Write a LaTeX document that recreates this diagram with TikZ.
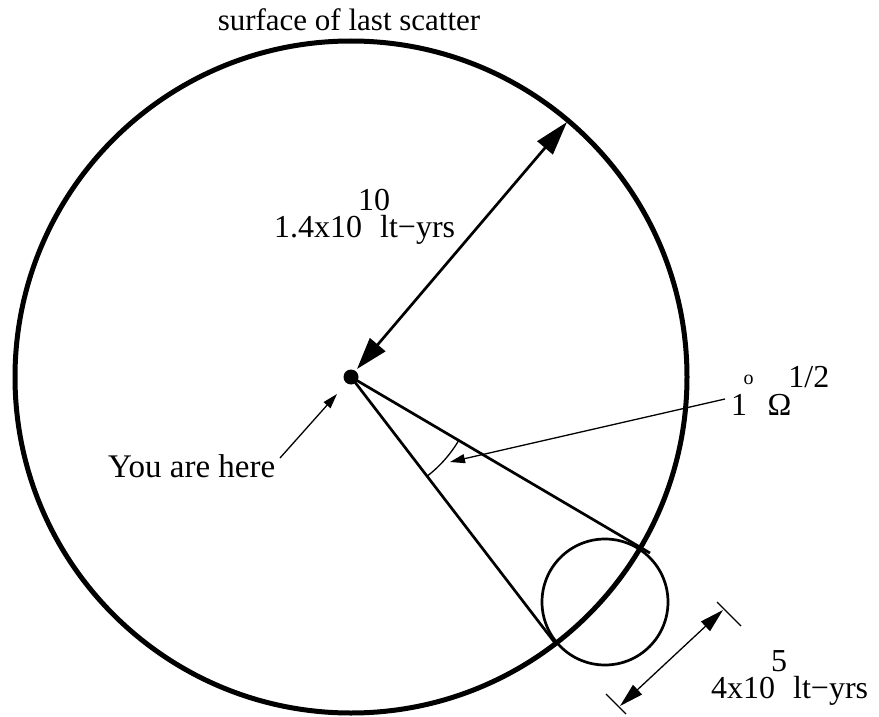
\documentclass[tikz,border=0pt]{standalone}
\usepackage{fontspec}
\setmainfont{Liberation Serif}
\usetikzlibrary{arrows.meta}
\begin{document}
\begin{tikzpicture}[x=1pt,y=-1pt,
  bigline/.style={line width=5pt},
  medline/.style={line width=2.7pt},
  thinline/.style={line width=1.3pt},
  bighead/.style={{Triangle[length=32pt,width=20pt]}-{Triangle[length=34pt,width=20pt]}},
  smallhead/.style={-{Triangle[length=15pt,width=9pt]}},
  dimhead/.style={{Triangle[length=24pt,width=13pt]}-{Triangle[length=24pt,width=13pt]}},
  dotnode/.style={circle,fill=black,inner sep=0pt,minimum size=15pt},
  lbl/.style={inner sep=0pt,font=\fontsize{32}{38}\selectfont}]
\useasboundingbox (0,0) rectangle (879,717);
% main sphere
\coordinate (O) at (351,377);
\draw[bigline] (O) circle[radius=336pt];
\node[lbl,font=\fontsize{31}{36}\selectfont,anchor=base] (surf) at (349,31) {surface of last scatter};
% observer
\node[dotnode] (here) at (O) {};
% radius arrow
\coordinate (rfoot) at (357,369);
\coordinate (rtip) at (567,122);
\draw[medline,bighead] (rfoot) -- (rtip);
\node[lbl,anchor=base west] (radlbl) at (274,237) {1.4x10\hspace{-4pt}\rlap{\raisebox{27pt}{10}}\hspace{22pt}lt−yrs};
% cone
\coordinate (c1) at (650,553);
\coordinate (c2) at (555,643);
\draw[medline] (here.center) -- (c1);
\draw[medline] (here.center) -- (c2);
% small spot
\node[draw,circle,medline,minimum size=126pt,inner sep=0pt] (spot) at (605,602) {};
% angle arc
\draw[thinline] plot[domain=30.5:52.5,samples=30] ({351+125*cos(\x)},{377+125*sin(\x)});
% angle label and arrow
\node[lbl,anchor=base west] (anglbl) at (731,415) {1\hspace{-3.5pt}\raisebox{30.4pt}{\fontsize{20}{20}\selectfont o}\hspace{14pt}Ω\hspace{-3pt}\raisebox{28pt}{1/2}};
\coordinate (atail) at (725,399);
\coordinate (atip) at (450,462);
\draw[thinline,smallhead] (atail) -- (atip);
% you are here
\node[lbl,font=\fontsize{33}{38}\selectfont,anchor=base west] (yah) at (108,477) {You are here};
\coordinate (ytail) at (280,458);
\coordinate (ytip) at (337,394);
\draw[thinline,smallhead] (ytail) -- (ytip);
% dimension of spot
\coordinate (t1a) at (717,602);
\coordinate (t1b) at (741,626);
\coordinate (t2a) at (606,694);
\coordinate (t2b) at (626,714);
\draw[thinline] (t1a) -- (t1b);
\draw[thinline] (t2a) -- (t2b);
\coordinate (d1) at (723,610);
\coordinate (d2) at (620,706);
\draw[thinline,dimhead] (d2) -- (d1);
\node[lbl,anchor=base west] (dimlbl) at (711,698) {4x10\hspace{-4pt}\rlap{\raisebox{27pt}{5}}\hspace{22pt}lt−yrs};
\end{tikzpicture}
\end{document}
